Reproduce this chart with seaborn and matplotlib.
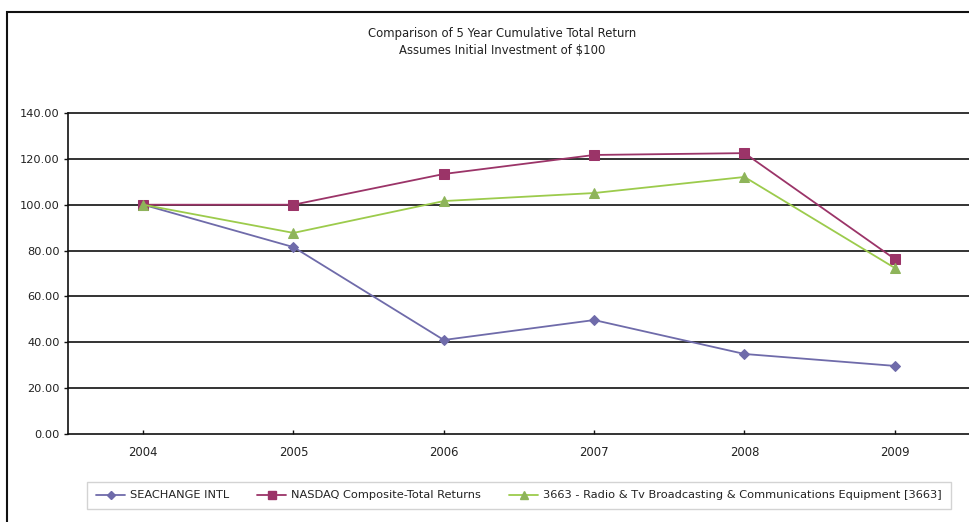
import matplotlib
matplotlib.use("Agg")
import matplotlib.pyplot as plt
import seaborn as sns
import pandas as pd
from matplotlib.patches import Rectangle

years = ["2004", "2005", "2006", "2007", "2008", "2009"]
seachange = [100.0, 81.5, 41.0, 49.7, 34.9, 29.7]
nasdaq = [100.0, 100.0, 113.4, 121.7, 122.5, 76.3]
radio = [100.0, 87.7, 101.6, 105.1, 112.1, 72.4]
series_names = ["SEACHANGE INTL", "NASDAQ Composite-Total Returns",
                "3663 - Radio & Tv Broadcasting & Communications Equipment [3663]"]
yticks = [0, 20, 40, 60, 80, 100, 120, 140]

rows = []
for name, vals in zip(series_names, [seachange, nasdaq, radio]):
    for y, v in zip(years, vals):
        rows.append({"Year": y, "Value": v, "Series": name})
df = pd.DataFrame(rows)

sns.set_theme(style="white")
plt.rcParams['font.family'] = ['DejaVu Sans']

line_colors = ["#6F6BAA", "#9B3468", "#9CCB4C"]
marker_face = ["#6F6BAA", "#9B3468", "#8EB45A"]
markers = ["D", "s", "^"]
msizes = [5.5, 7, 7.5]

fig = plt.figure(figsize=(9.7, 5.22), dpi=100)
W, H = 970, 522
ax = fig.add_axes([68 / W, 1 - 434 / H, (970 - 68) / W, (434 - 113) / H])

sns.lineplot(data=df, x="Year", y="Value", hue="Series", style="Series",
             hue_order=series_names, style_order=series_names,
             palette=line_colors, markers=markers, dashes=False,
             linewidth=1.3, ax=ax, legend=False, sort=False)

for i, line in enumerate(ax.lines[:3]):
    line.set_marker(markers[i])
    line.set_markersize(msizes[i])
    line.set_markerfacecolor(marker_face[i])
    line.set_markeredgecolor(marker_face[i])
    line.set_zorder(3)

ax.set_xlim(-0.5, 5.5)
ax.set_ylim(0, 140)
ax.set_yticks(yticks)
ax.set_yticklabels([f"{v:.2f}" for v in yticks], fontsize=8.2, color="#222222")
ax.set_xticks(range(len(years)))
ax.set_xticklabels(years, fontsize=8.4, color="#222222")
ax.set_xlabel("")
ax.set_ylabel("")
ax.grid(False)
for v in yticks[1:]:
    ax.axhline(v, color="#111111", lw=1.2, zorder=1, clip_on=False)
for s in ["top", "right"]:
    ax.spines[s].set_visible(False)
for s in ["left", "bottom"]:
    ax.spines[s].set_color("#111111")
    ax.spines[s].set_linewidth(1.2)
ax.tick_params(axis="y", direction="out", length=3, width=1, color="#111111", pad=3, left=True)
ax.tick_params(axis="x", direction="in", length=3, width=1, color="#111111", pad=9, bottom=True)

fig.text(502 / W, 1 - 33 / H, "Comparison of 5 Year Cumulative Total Return",
         ha="center", va="center", fontsize=8.4, color="#222222")
fig.text(502 / W, 1 - 50 / H, "Assumes Initial Investment of $100",
         ha="center", va="center", fontsize=8.4, color="#222222")

# outer border
fig.add_artist(Rectangle((7 / W, -0.1), 1.2, 1 - 12 / H + 0.1, transform=fig.transFigure,
                         fill=False, edgecolor="#111111", lw=1.5))

handles = []
for i, n in enumerate(series_names):
    h, = ax.plot([], [], color=line_colors[i], marker=markers[i], markersize=msizes[i] - 1.5,
                 markerfacecolor=marker_face[i], markeredgecolor=marker_face[i], lw=1.3)
    handles.append(h)
leg = fig.legend(handles, series_names, loc="center",
                 bbox_to_anchor=((83 + 955) / 2 / W, 1 - 495.5 / H),
                 ncol=3, fontsize=8.2, frameon=True, fancybox=False,
                 handlelength=2.55, columnspacing=2.45, borderpad=0.75, handletextpad=0.45,
                 labelcolor="#222222")
leg.get_frame().set_edgecolor("#C8C8C8")
leg.get_frame().set_linewidth(1.0)

fig.savefig("out.png", dpi=100)
